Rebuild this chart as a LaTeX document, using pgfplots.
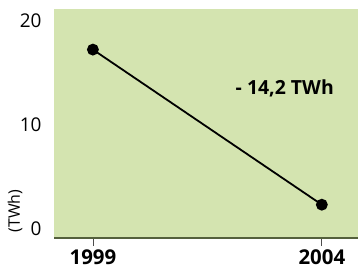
\documentclass[border=0pt]{standalone}
\usepackage{pgfplots}
\pgfplotsset{compat=1.18}
\usepackage{fontspec}
\setmainfont{Open Sans}
\definecolor{bggreen}{RGB}{212,228,176}
\definecolor{axisol}{RGB}{84,96,60}
\begin{document}
\begin{tikzpicture}
\path[use as bounding box] (0,0) rectangle (358bp,273bp);
\begin{axis}[
  at={(54bp,35bp)}, anchor=south west,
  scale only axis, width=304bp, height=229bp,
  xmin=1998.15, xmax=2004.79,
  ymin=-0.9, ymax=21.1,
  axis background/.style={fill=bggreen},
  axis line style={draw=none},
  axis x line*=bottom,
  axis y line*=left,
  xtick={1999,2004},
  xticklabels={\textbf{1999},\textbf{2004}},
  ytick={0,10,20},
  y tick style={draw=none},
  x tick style={draw=black!70, line width=0.8bp},
  major tick length=8bp,
  tick align=outside,
  xtick pos=bottom,
  ytick pos=left,
  yticklabel style={font=\fontsize{19}{21}\selectfont, xshift=-1bp},
  xticklabel style={font=\fontsize{20.5}{22}\selectfont, yshift=0bp},
  /pgf/number format/assume math mode=true,
  clip=false,
]
\draw[axisol, line width=2bp] (axis cs:1998.15,-0.9) -- (axis cs:2004.79,-0.9);
\addplot[black, line width=1.8bp, mark=*, mark size=5bp] coordinates {(1999,17.2) (2004,2.3)};
\node[font=\bfseries\fontsize{19.5}{21}\selectfont] at (axis cs:2003.19,13.5) {- 14,2 TWh};
\end{axis}
\node[rotate=90, font=\fontsize{16}{18}\selectfont] at (15bp,62bp) {(TWh)};
\end{tikzpicture}
\end{document}
